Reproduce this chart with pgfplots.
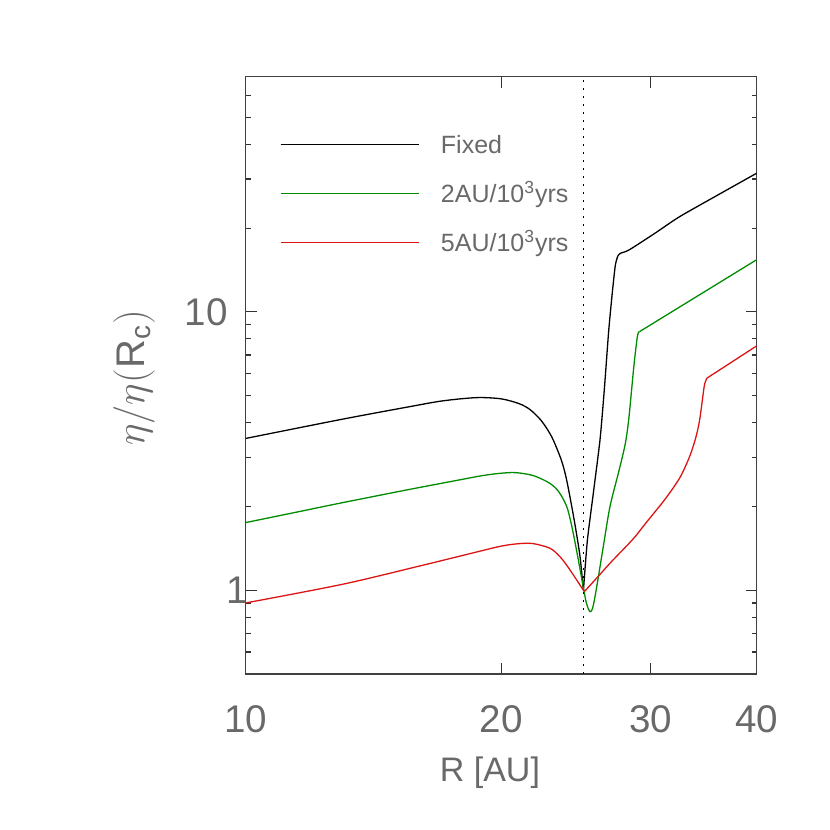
\documentclass[border=0pt]{standalone}
\usepackage{fontspec}
\setmainfont{Liberation Sans}
\usepackage{pgfplots}
\pgfplotsset{compat=1.18}
\definecolor{igreen}{RGB}{0,140,0}
\definecolor{ired}{RGB}{220,20,20}
\definecolor{txt}{RGB}{105,105,105}
\begin{document}
\begin{tikzpicture}
\begin{axis}[
  xmode=log, ymode=log,
  scale only axis, width=255.5pt, height=298.65pt,
  xmin=10, xmax=40, ymin=0.5, ymax=70,
  xtick={10,20,30,40}, xticklabels={10,20,30,40},
  ytick={1,10}, yticklabels={{1\hspace*{-11pt}},10},
  minor ytick={0.6,0.7,0.8,0.9,2,3,4,5,6,7,8,9,20,30,40,50,60},
  minor xtick={},
  major tick length=5.5pt, minor tick length=2.5pt,
  tick style={black!80, line width=0.6pt},
  axis line style={black!75, line width=0.6pt},
  tick label style={font=\fontsize{19.3}{21}\selectfont, text=txt},
  xticklabel style={inner sep=0pt, anchor=north, yshift=-15.5pt},
  yticklabel style={inner sep=0pt, anchor=east, xshift=-8.8pt},
  xlabel={R [AU]},
  xlabel style={font=\fontsize{17}{19}\selectfont, text=txt, at={(axis description cs:0.478,-0.1803)}, anchor=base, inner sep=0pt},
  ylabel={$\eta/\eta\bigl($R\textsubscript{c}$\bigr)$},
  ylabel style={font=\fontsize{20}{24}\selectfont, text=txt, at={(axis description cs:-0.2186,0.4956)}, anchor=center, inner sep=0pt},
  legend cell align=left,
  legend image code/.code={\draw[#1] (0pt,0pt) -- (69.4pt,0pt);},
  legend style={draw=none, fill=none, inner sep=0pt, at={(axis description cs:0.0661,0.9089)}, anchor=north west,
    font=\fontsize{12.5}{14}\selectfont, text=txt, column sep=10.5pt, row sep=11.3pt,
    nodes={inner sep=0pt, text height=10.8pt, text depth=2.4pt}},
  every axis plot/.append style={line width=0.65pt, line join=round},
]
% Fixed
\addplot[black, smooth, tension=0.5] coordinates {
(10,3.51) (12.97,4.11) (15.57,4.56) (17.07,4.79) (18.72,4.92) (20.0,4.87) (21.0,4.68) (21.62,4.46) (22.22,4.12) (22.65,3.80) (23.03,3.47) (23.54,2.94) (23.86,2.53) (24.22,2.0) (24.49,1.65) (24.77,1.32) (25.0,1.0)
};
\addlegendentry{Fixed}
\addplot[black, smooth, tension=0.4, forget plot] coordinates {
(25.0,1.0) (25.27,1.51) (25.69,2.25) (26.15,3.47) (26.45,5.2) (26.77,8.5) (27.02,11.5) (27.26,14.7) (27.45,15.9)
};
\addplot[black, smooth, tension=0.4, forget plot] coordinates {
(27.45,15.9) (27.64,16.24) (28.29,16.69) (30.3,19.1) (32.45,21.98) (36.0,26.3) (40,31.5)
};
% 2 AU / 10^3 yrs
\addplot[igreen, smooth, tension=0.5] coordinates {
(10,1.75) (11.5,1.91) (12.97,2.06) (15.57,2.30) (17.85,2.49) (19.0,2.58) (19.94,2.63) (20.8,2.645) (21.83,2.58) (22.83,2.42) (23.4,2.25) (23.89,2.0) (24.2,1.72) (24.54,1.39) (25.0,1.02) (25.2,0.9) (25.45,0.837) (25.65,0.87) (25.92,1.03) (26.4,1.45) (26.87,2.0) (27.5,2.65) (28.0,3.35) (28.28,4.15) (28.67,6.4) (28.95,8.2) (29.12,8.5)
};
\addlegendentry{2AU/10\textsuperscript{3}yrs}
\addplot[igreen, forget plot] coordinates {
(29.12,8.5) (29.47,8.69) (40,15.4)
};
% 5 AU / 10^3 yrs
\addplot[ired, smooth, tension=0.5] coordinates {
(10,0.90) (13,1.05) (16,1.22) (18.5,1.36) (20.0,1.44) (21.0,1.47) (21.83,1.47) (22.83,1.415) (23.4,1.33) (23.89,1.23) (24.54,1.09) (25.0,1.0) (25.1,0.993)
};
\addlegendentry{5AU/10\textsuperscript{3}yrs}
\addplot[ired, smooth, tension=0.5, forget plot] coordinates {
(25.1,0.993) (26.15,1.14) (27.0,1.27) (28.62,1.53) (29.6,1.74) (31.0,2.07) (31.86,2.32) (32.6,2.59) (33.36,3.03) (33.9,3.52) (34.25,4.05) (34.5,4.75) (34.72,5.47) (34.95,5.78)
};
\addplot[ired, forget plot] coordinates {
(34.95,5.78) (40,7.55)
};
\addplot[black, line width=0.75pt, dash pattern=on 1pt off 3pt, forget plot] coordinates {(25,0.5) (25,70)};
\coordinate (bbsw) at (rel axis cs:-0.4808,-0.2612);
\coordinate (bbne) at (rel axis cs:1.1434,1.1284);
\end{axis}
\path[use as bounding box] (bbsw) rectangle (bbne);
\end{tikzpicture}
\end{document}
